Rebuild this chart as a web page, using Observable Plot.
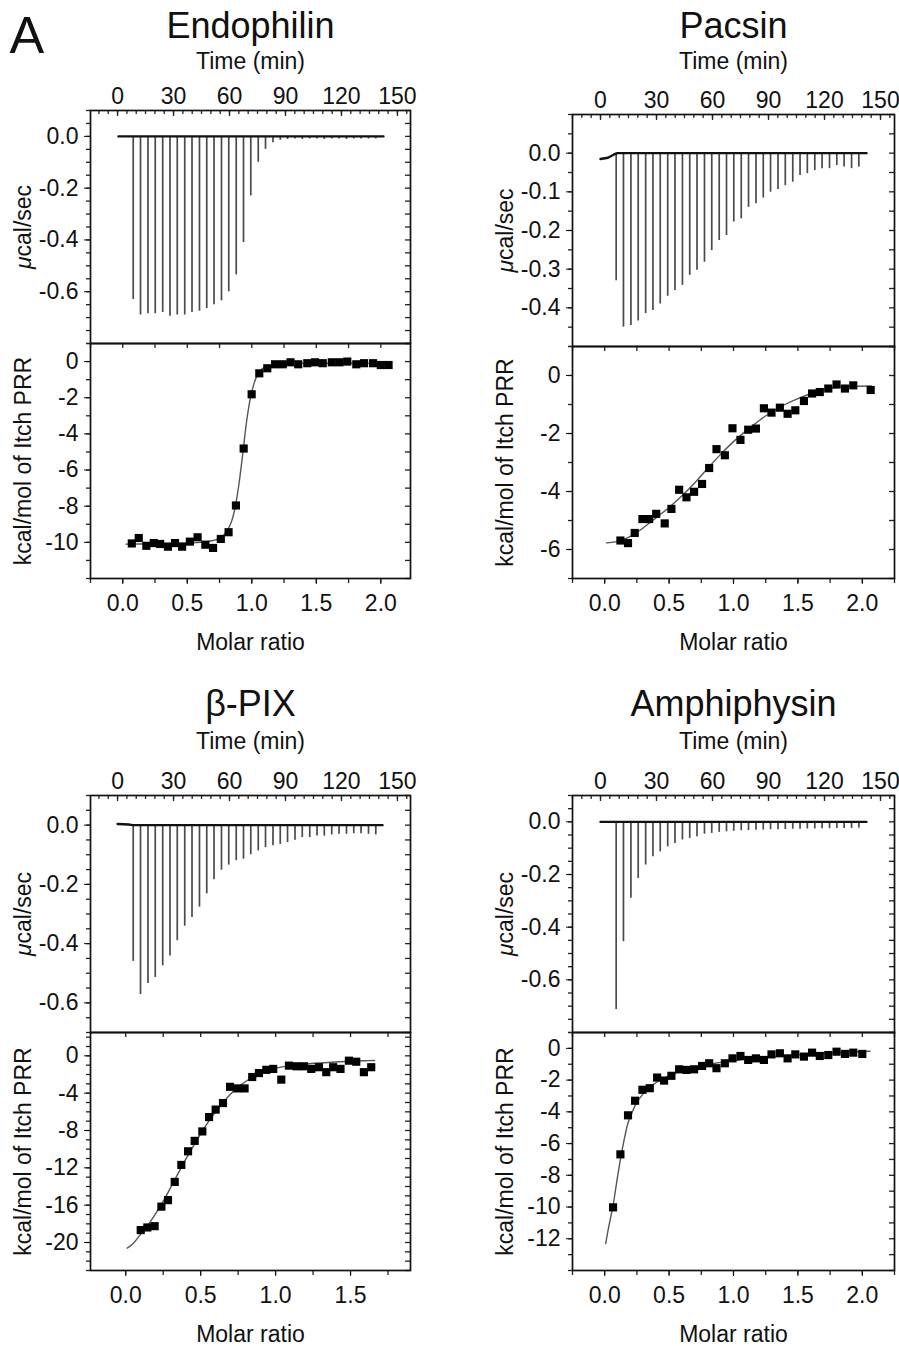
<!DOCTYPE html>
<html><head><meta charset="utf-8">
<script src="https://cdn.jsdelivr.net/npm/d3@7"></script>
<script src="https://cdn.jsdelivr.net/npm/@observablehq/plot@0.6"></script>
<style>
body{margin:0;background:#fff;}
#chart{position:relative;width:899px;height:1346px;overflow:hidden;background:#fff;}
#chart svg{position:absolute;overflow:visible;max-width:none;}
</style></head><body><div id="chart"></div>
<script>
// ---------- DATA ----------
const panelTitles = ["Endophilin", "Pacsin", "β-PIX", "Amphiphysin"];
const timeLabels = [0, 30, 60, 90, 120, 150];
const injectionTimes = [8.4, 12.3, 16.3, 20.2, 24.2, 28.1, 32.0, 36.0, 39.9, 43.9, 47.8, 51.7, 55.7, 59.6, 63.6, 67.5, 71.4, 75.4, 79.3, 83.3, 87.2, 91.1, 95.1, 99.0, 103.0, 106.9, 110.8, 114.8, 118.7, 122.7, 126.6, 130.5, 134.5, 138.4];

// raw thermogram peak minima (µcal/sec), one per injection
const endoPeaks = [-0.63, -0.69, -0.685, -0.685, -0.68, -0.695, -0.69, -0.69, -0.68, -0.675, -0.665, -0.65, -0.635, -0.60, -0.535, -0.41, -0.23, -0.10, -0.05, -0.025, -0.015, -0.012, -0.01, -0.012, -0.01, -0.01, -0.012, -0.01, -0.01, -0.012, -0.01, -0.01, -0.01, -0.01];
const pacsinPeaks = [-0.33, -0.45, -0.446, -0.434, -0.415, -0.407, -0.39, -0.37, -0.355, -0.342, -0.316, -0.303, -0.282, -0.252, -0.226, -0.213, -0.178, -0.17, -0.14, -0.131, -0.116, -0.101, -0.094, -0.084, -0.075, -0.058, -0.053, -0.045, -0.04, -0.04, -0.032, -0.036, -0.04, -0.036];
const bpixPeaks = [-0.46, -0.572, -0.535, -0.514, -0.475, -0.442, -0.39, -0.341, -0.312, -0.277, -0.232, -0.184, -0.152, -0.135, -0.12, -0.115, -0.10, -0.087, -0.076, -0.07, -0.065, -0.059, -0.051, -0.042, -0.042, -0.037, -0.037, -0.033, -0.031, -0.031, -0.029, -0.029, -0.031, -0.033];
const amphPeaks = [-0.713, -0.455, -0.29, -0.215, -0.164, -0.133, -0.114, -0.095, -0.082, -0.069, -0.063, -0.057, -0.047, -0.044, -0.04, -0.038, -0.036, -0.034, -0.033, -0.032, -0.031, -0.03, -0.03, -0.029, -0.028, -0.028, -0.027, -0.027, -0.026, -0.026, -0.025, -0.025, -0.025, -0.024];

// thermogram baselines [time, µcal/sec]
const endoBaseline = [[0.5, 0], [142.5, 0]];
const pacsinBaseline = [[0, -0.015], [4, -0.012], [7, -0.004], [9, 0], [142.5, 0]];
const bpixBaseline = [[0, 0.004], [6, 0.002], [8, 0], [142, 0]];
const amphBaseline = [[0, 0], [142.5, 0]];

// integrated heats
const endoMolar = [0.07, 0.124, 0.183, 0.24, 0.29, 0.35, 0.405, 0.46, 0.52, 0.58, 0.64, 0.70, 0.76, 0.82, 0.877, 0.937, 0.999, 1.058, 1.12, 1.18, 1.24, 1.30, 1.36, 1.43, 1.49, 1.55, 1.62, 1.68, 1.74, 1.81, 1.87, 1.94, 2.0, 2.06];
const endoHeat = [-10.06, -9.76, -10.19, -10.04, -10.09, -10.24, -10.04, -10.24, -9.96, -9.72, -10.13, -10.31, -9.81, -9.44, -7.96, -4.81, -1.81, -0.65, -0.37, -0.15, -0.15, -0.04, -0.15, -0.09, -0.04, -0.09, -0.04, -0.04, 0.0, -0.15, -0.09, -0.09, -0.19, -0.19];
const endoFit = [[0.025, -10.1], [0.2, -10.08], [0.4, -10.05], [0.6, -10.0], [0.7, -9.9], [0.76, -9.75], [0.8, -9.45], [0.84, -8.9], [0.87, -8.1], [0.9, -6.8], [0.93, -5.1], [0.96, -3.3], [0.99, -2.0], [1.02, -1.15], [1.05, -0.65], [1.08, -0.4], [1.12, -0.25], [1.2, -0.14], [1.4, -0.1], [2.08, -0.1]];

const pacsinMolar = [0.122, 0.181, 0.233, 0.293, 0.345, 0.40, 0.466, 0.518, 0.578, 0.635, 0.694, 0.756, 0.811, 0.868, 0.933, 0.992, 1.054, 1.114, 1.174, 1.236, 1.295, 1.36, 1.42, 1.48, 1.547, 1.61, 1.67, 1.736, 1.80, 1.865, 1.93, 2.065];
const pacsinHeat = [-5.69, -5.78, -5.43, -4.95, -4.95, -4.77, -5.10, -4.60, -3.94, -4.20, -4.01, -3.74, -3.19, -2.54, -2.75, -1.82, -2.22, -1.87, -1.83, -1.13, -1.28, -1.11, -1.32, -1.20, -0.88, -0.62, -0.57, -0.45, -0.31, -0.45, -0.34, -0.50];
const pacsinFit = [[0.013, -5.77], [0.1, -5.72], [0.2, -5.55], [0.3, -5.25], [0.4, -4.9], [0.5, -4.55], [0.6, -4.15], [0.7, -3.7], [0.8, -3.2], [0.9, -2.72], [1.0, -2.28], [1.1, -1.9], [1.2, -1.55], [1.3, -1.25], [1.4, -1.0], [1.5, -0.8], [1.6, -0.63], [1.7, -0.5], [1.8, -0.42], [1.9, -0.38], [2.07, -0.36]];

const bpixMolar = [0.10, 0.144, 0.193, 0.238, 0.282, 0.327, 0.371, 0.416, 0.46, 0.511, 0.556, 0.60, 0.649, 0.696, 0.744, 0.793, 0.844, 0.889, 0.938, 0.984, 1.038, 1.089, 1.14, 1.189, 1.238, 1.289, 1.338, 1.384, 1.433, 1.489, 1.538, 1.589, 1.638];
const bpixHeat = [-18.67, -18.39, -18.25, -16.16, -15.46, -13.51, -11.69, -10.23, -9.11, -8.10, -6.56, -5.76, -5.06, -3.32, -3.49, -3.49, -2.27, -1.85, -1.50, -1.40, -2.55, -1.05, -1.12, -1.12, -1.40, -1.22, -1.75, -1.22, -1.40, -0.52, -0.63, -1.75, -1.22];
const bpixFit = [[0.01, -20.6], [0.05, -20.1], [0.1, -19.1], [0.15, -18.1], [0.2, -16.9], [0.25, -15.6], [0.3, -14.1], [0.35, -12.6], [0.4, -11.1], [0.45, -9.7], [0.5, -8.35], [0.55, -7.1], [0.6, -6.0], [0.65, -5.0], [0.7, -4.1], [0.75, -3.35], [0.8, -2.75], [0.85, -2.25], [0.9, -1.85], [0.95, -1.55], [1.0, -1.32], [1.1, -1.05], [1.2, -0.88], [1.3, -0.76], [1.4, -0.66], [1.5, -0.58], [1.6, -0.52], [1.66, -0.5]];

const amphMolar = [0.065, 0.122, 0.181, 0.236, 0.293, 0.35, 0.407, 0.461, 0.518, 0.578, 0.635, 0.694, 0.756, 0.811, 0.868, 0.933, 0.992, 1.054, 1.114, 1.174, 1.236, 1.295, 1.36, 1.42, 1.48, 1.547, 1.61, 1.67, 1.736, 1.80, 1.865, 1.93, 2.0];
const amphHeat = [-10.02, -6.68, -4.22, -3.30, -2.61, -2.51, -1.84, -2.03, -1.73, -1.32, -1.36, -1.32, -1.11, -0.94, -1.25, -0.94, -0.63, -0.48, -0.73, -0.63, -0.73, -0.38, -0.31, -0.63, -0.38, -0.52, -0.27, -0.48, -0.42, -0.21, -0.35, -0.27, -0.35];
const amphFit = [[0.008, -12.3], [0.03, -11.3], [0.065, -9.9], [0.09, -8.6], [0.122, -7.0], [0.15, -5.8], [0.181, -4.7], [0.215, -4.0], [0.246, -3.45], [0.3, -2.85], [0.35, -2.45], [0.4, -2.15], [0.48, -1.8], [0.6, -1.4], [0.7, -1.18], [0.85, -0.95], [1.0, -0.78], [1.13, -0.65], [1.3, -0.52], [1.5, -0.41], [1.7, -0.32], [1.9, -0.24], [2.06, -0.18]];

// tick labels
const upperLabels = [[0, -0.2, -0.4, -0.6], [0, -0.1, -0.2, -0.3, -0.4], [0, -0.2, -0.4, -0.6], [0, -0.2, -0.4, -0.6]];
const lowerLabels = [[0, -2, -4, -6, -8, -10], [0, -2, -4, -6], [0, -4, -8, -12, -16, -20], [0, -2, -4, -6, -8, -10, -12]];
const molarLabels = [[0, 0.5, 1, 1.5, 2], [0, 0.5, 1, 1.5, 2], [0, 0.5, 1, 1.5], [0, 0.5, 1, 1.5, 2]];

// ---------- LAYOUT ----------
const FONT = "'Liberation Sans', Arial, Helvetica, sans-serif";
const chart = document.getElementById("chart");
const SVGW = 449;

const panels = [
  {title: panelTitles[0], peaks: endoPeaks, baseline: endoBaseline, molar: endoMolar, heat: endoHeat, fit: endoFit,
   svgLeft: 0, fl: 90, fr: 410, upTop: 110, sep: 343, lowBot: 578, upSvgTop: 0,
   tDomain: [-14.5, 157], upDomain: [-0.8, 0.1], lowDomain: [-12, 1], mDomain: [-0.25, 2.23],
   titleBase: 37, timeTop: 52, showA: true},
  {title: panelTitles[1], peaks: pacsinPeaks, baseline: pacsinBaseline, molar: pacsinMolar, heat: pacsinHeat, fit: pacsinFit,
   svgLeft: 450, fl: 572, fr: 894, upTop: 114, sep: 346, lowBot: 578, upSvgTop: 0,
   tDomain: [-15, 157.5], upDomain: [-0.5, 0.1], lowDomain: [-7, 1], mDomain: [-0.25, 2.25],
   titleBase: 37, timeTop: 52},
  {title: panelTitles[2], peaks: bpixPeaks, baseline: bpixBaseline, molar: bpixMolar, heat: bpixHeat, fit: bpixFit,
   svgLeft: 0, fl: 90, fr: 410, upTop: 795, sep: 1032, lowBot: 1270, upSvgTop: 680,
   tDomain: [-14.5, 157], upDomain: [-0.7, 0.1], lowDomain: [-23, 2.5], mDomain: [-0.235, 1.9],
   titleBase: 715, timeTop: 732},
  {title: panelTitles[3], peaks: amphPeaks, baseline: amphBaseline, molar: amphMolar, heat: amphHeat, fit: amphFit,
   svgLeft: 450, fl: 572, fr: 894, upTop: 795, sep: 1032, lowBot: 1270, upSvgTop: 680,
   tDomain: [-15, 157.5], upDomain: [-0.8, 0.1], lowDomain: [-14, 1], mDomain: [-0.25, 2.25],
   titleBase: 715, timeTop: 732}
];

function stepTicks(lo, hi, step) {
  const out = [];
  const a = Math.ceil(lo / step - 1e-9), b = Math.floor(hi / step + 1e-9);
  for (let i = a; i <= b; i++) out.push(+(i * step).toFixed(6));
  return out;
}
function place(svg, left, top) {
  svg.style.left = left + "px";
  svg.style.top = top + "px";
  chart.appendChild(svg);
}
const baseStyle = {fontFamily: FONT, fontSize: "23px", color: "#111", overflow: "visible", background: "transparent"};
const TK = "#222";

panels.forEach((p, idx) => {
  const fw = p.fr - p.fl;
  const marginLeft = p.fl - p.svgLeft;
  const marginRight = SVGW - (p.fr - p.svgLeft);

  // ----- upper: raw thermogram -----
  const fhU = p.sep - p.upTop;
  const mTopU = p.upTop - p.upSvgTop;
  const spikes = injectionTimes.map((t, i) => ({t, peak: p.peaks[i]}));
  const tMinor = stepTicks(p.tDomain[0], p.tDomain[1], 5);
  const yMinorU = stepTicks(p.upDomain[0], p.upDomain[1], 0.05);
  const upperMarks = [
    Plot.ruleX(spikes, {x: "t", y1: 0, y2: "peak", stroke: "#4a4a4a", strokeWidth: 1.7}),
    Plot.line(p.baseline, {x: d => d[0], y: d => d[1], stroke: "#111", strokeWidth: 2.4}),
    Plot.ruleX(tMinor, {x: d => d, insetBottom: fhU - 4, stroke: TK, strokeWidth: 1.3}),
    Plot.ruleX(timeLabels, {x: d => d, insetBottom: fhU - 6, stroke: TK, strokeWidth: 1.3}),
    Plot.ruleY(yMinorU, {y: d => d, insetLeft: -4, insetRight: fw, stroke: TK, strokeWidth: 1.3}),
    Plot.ruleY(yMinorU, {y: d => d, insetLeft: fw - 5, stroke: TK, strokeWidth: 1.3}),
    Plot.axisX({anchor: "top", ticks: timeLabels, tickSize: 0, tickPadding: 7, tickFormat: d => String(d),
      label: "Time (min)", labelAnchor: "center", labelOffset: p.upTop - p.timeTop, labelArrow: "none"}),
    Plot.axisY({anchor: "left", ticks: upperLabels[idx], tickSize: 6, tickPadding: 6, tickFormat: d => d.toFixed(1),
      label: "μcal/sec", labelAnchor: "center", labelOffset: 76, labelArrow: "none"}),
    Plot.frame({stroke: "#111", strokeWidth: 1.7}),
    Plot.text([p.title], {text: d => d, frameAnchor: "top", dy: p.titleBase - p.upTop, lineAnchor: "bottom", fontSize: 36, fill: "#111"})
  ];
  if (p.showA) upperMarks.push(Plot.text(["A"], {text: d => d, frameAnchor: "top-left", textAnchor: "start", dx: 9 - p.fl, dy: 52 - p.upTop, lineAnchor: "bottom", fontSize: 52, fill: "#111"}));
  const up = Plot.plot({
    width: SVGW, height: mTopU + fhU, marginLeft, marginRight, marginTop: mTopU, marginBottom: 0,
    style: baseStyle,
    x: {domain: p.tDomain},
    y: {domain: p.upDomain},
    marks: upperMarks
  });
  place(up, p.svgLeft, p.upSvgTop);

  // ----- lower: integrated heats -----
  const fhL = p.lowBot - p.sep;
  const pts = p.molar.map((m, i) => ({m, h: p.heat[i]}));
  const mMinor = stepTicks(p.mDomain[0], p.mDomain[1], 0.25);
  const yMinorL = stepTicks(p.lowDomain[0], p.lowDomain[1], 1);
  const low = Plot.plot({
    width: SVGW, height: fhL + 90, marginLeft, marginRight, marginTop: 0, marginBottom: 90,
    style: baseStyle,
    x: {domain: p.mDomain},
    y: {domain: p.lowDomain},
    marks: [
      Plot.line(p.fit, {x: d => d[0], y: d => d[1], stroke: "#555", strokeWidth: 1.4, curve: "catmull-rom"}),
      Plot.dot(pts, {x: "m", y: "h", symbol: "square", r: 4.6, fill: "#000"}),
      Plot.ruleX(mMinor, {x: d => d, insetBottom: fhL - 5, stroke: TK, strokeWidth: 1.3}),
      Plot.ruleX(mMinor, {x: d => d, insetTop: fhL, insetBottom: -5, stroke: TK, strokeWidth: 1.3}),
      Plot.ruleY(yMinorL, {y: d => d, insetLeft: -4, insetRight: fw, stroke: TK, strokeWidth: 1.3}),
      Plot.ruleY(yMinorL, {y: d => d, insetLeft: fw - 5, stroke: TK, strokeWidth: 1.3}),
      Plot.axisX({anchor: "bottom", ticks: molarLabels[idx], tickSize: 6, tickPadding: 10, tickFormat: d => d.toFixed(1),
        label: "Molar ratio", labelAnchor: "center", labelOffset: 71, labelArrow: "none"}),
      Plot.axisY({anchor: "left", ticks: lowerLabels[idx], tickSize: 6, tickPadding: 6, tickFormat: d => String(d),
        label: "kcal/mol of Itch PRR", labelAnchor: "center", labelOffset: 76, labelArrow: "none"}),
      Plot.frame({stroke: "#111", strokeWidth: 1.7})
    ]
  });
  place(low, p.svgLeft, p.sep);
});

// italic µ in the µcal/sec labels
d3.select(chart).selectAll("text").each(function () {
  if (this.textContent === "μcal/sec") {
    this.textContent = "";
    d3.select(this).append("tspan").attr("font-style", "italic").text("μ");
    d3.select(this).append("tspan").text("cal/sec");
  }
});
</script>
</body></html>
